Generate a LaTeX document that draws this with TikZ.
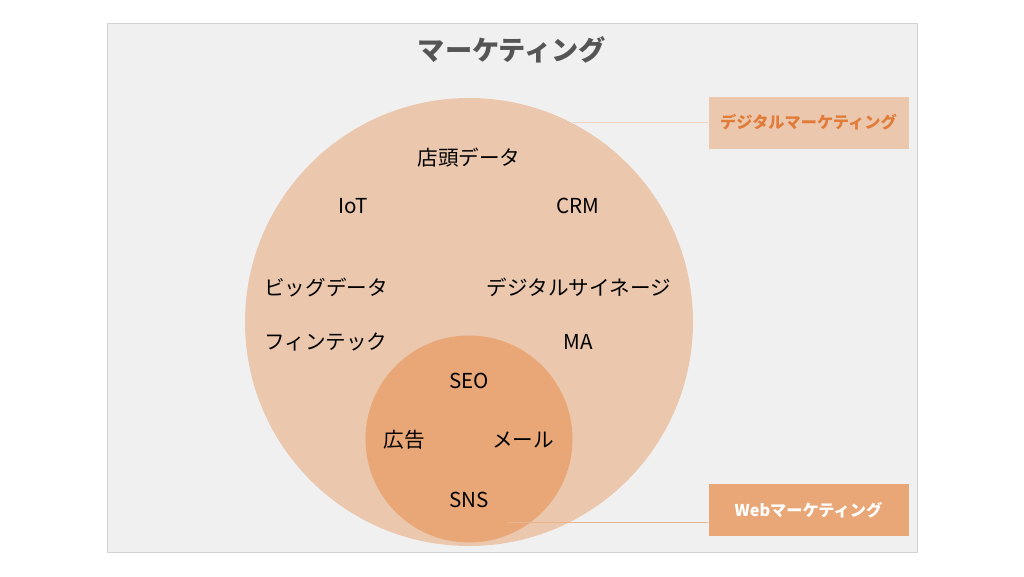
\documentclass[tikz,border=0pt]{standalone}
\usepackage{fontspec}
\setmainfont{Noto Sans CJK JP}
\newfontfamily\jp{Noto Sans CJK JP}
\definecolor{bgc}{HTML}{F0F0F0}
\definecolor{framec}{HTML}{D2D2D2}
\definecolor{bigc}{HTML}{EBC7AD}
\definecolor{smallc}{HTML}{E9A777}
\definecolor{orangetxt}{HTML}{E07B39}
\definecolor{titlec}{HTML}{555555}
\definecolor{lineone}{HTML}{EDD3C2}
\definecolor{linetwo}{HTML}{E6B590}
\begin{document}
\begin{tikzpicture}[x=1pt,y=-1pt,
  lbl/.style={font=\jp\fontsize{20.6}{24}\selectfont, text=black, inner sep=0pt},
  tagbox/.style={minimum width=200pt, minimum height=52pt, inner sep=0pt, font=\jp\bfseries\fontsize{16.2}{19}\selectfont},
  conn/.style={line width=0.9pt}]
\useasboundingbox (0,0) rectangle (1024,576);
\node[draw=framec, fill=bgc, line width=0.8pt, minimum width=810pt, minimum height=529pt, inner sep=0pt] (frame) at (512,287.5) {};
\node[font=\jp\bfseries\fontsize{27.2}{32}\selectfont, text=titlec] (title) at (512,50) {マーケティング};
\node[circle, fill=bigc, minimum size=448pt, inner sep=0pt] (big) at (469,322) {};
\node[circle, fill=smallc, minimum size=207pt, inner sep=0pt] (small) at (469,439) {};
\node[lbl] (tento) at (469,158) {店頭データ};
\node[lbl] (iot) at (353,206) {IoT};
\node[lbl] (crm) at (578,206) {CRM};
\node[lbl] (bigdata) at (326,287) {ビッグデータ};
\node[lbl] (signage) at (579,287) {デジタルサイネージ};
\node[lbl] (fintech) at (326,342) {フィンテック};
\node[lbl] (ma) at (578,342) {MA};
\node[lbl] (seo) at (469,381) {SEO};
\node[lbl] (ad) at (404,440) {広告};
\node[lbl] (mail) at (523,440) {メール};
\node[lbl] (sns) at (469,500) {SNS};
\node[tagbox, fill=bigc, text=orangetxt] (digital) at (808.5,122.5) {デジタルマーケティング};
\node[tagbox, fill=smallc, text=white] (web) at (808.5,510) {Webマーケティング};
\coordinate (dstart) at (573,122.5);
\coordinate (wstart) at (507,522.5);
\draw[conn, draw=lineone] (dstart) -- (dstart -| digital.west);
\draw[conn, draw=linetwo] (wstart) -- (wstart -| web.west);
\end{tikzpicture}
\end{document}
